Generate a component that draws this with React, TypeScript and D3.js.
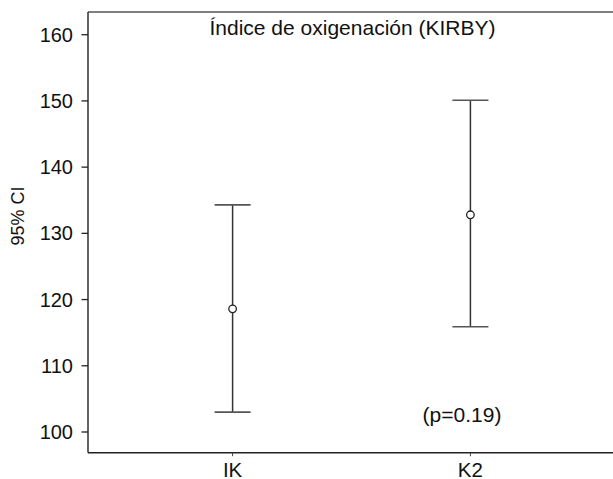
import React from "react";
import * as d3 from "d3";

const categories = ["IK", "K2"];
const means = [118.6, 132.8];
const lowers = [103.0, 115.9];
const uppers = [134.3, 150.1];
const yTicks = [100, 110, 120, 130, 140, 150, 160];
const title = "Índice de oxigenación (KIRBY)";
const yLabel = "95% CI";
const pText = "(p=0.19)";

export default function App() {
  const W = 613, H = 479;
  const left = 88, right = 615, top = 12, bottom = 452.7;
  const x = d3.scalePoint<string>().domain(categories).range([left, right]).padding(0.608);
  const y = d3.scaleLinear().domain([100, 160]).range([432, 34.7]);
  const font = "Liberation Sans, Arial, Helvetica, sans-serif";
  const stroke = "#333";
  const capHalf = 18;
  return (
    <svg width={W} height={H} style={{ position: "absolute", left: 0, top: 0, background: "#fff" }} fontFamily={font}>
      <rect x={0} y={0} width={W} height={H} fill="#fff" />
      {/* frame */}
      <line x1={left} x2={W} y1={top} y2={top} stroke="#555" strokeWidth={1.6} />
      <line x1={left} x2={W} y1={bottom} y2={bottom} stroke="#222" strokeWidth={1.6} />
      <line x1={left} x2={left} y1={top} y2={bottom} stroke="#222" strokeWidth={1.4} />
      {/* y ticks */}
      {yTicks.map((t) => (
        <g key={t}>
          <line x1={left - 6.5} x2={left} y1={y(t)} y2={y(t)} stroke="#222" strokeWidth={1.3} />
          <text x={73} y={y(t)} dy="0.35em" textAnchor="end" fontSize={20} fill="#111">{t}</text>
        </g>
      ))}
      {/* x ticks */}
      {categories.map((c) => (
        <g key={c}>
          <line x1={x(c)!} x2={x(c)!} y1={bottom} y2={bottom + 3.5} stroke="#444" strokeWidth={1} />
          <text x={x(c)!} y={476.5} textAnchor="middle" fontSize={20.5} fill="#111">{c}</text>
        </g>
      ))}
      {/* error bars */}
      {categories.map((c, i) => {
        const cx = x(c)!;
        return (
          <g key={"e" + c}>
            <line x1={cx} x2={cx} y1={y(uppers[i])} y2={y(lowers[i])} stroke={stroke} strokeWidth={1.5} />
            <line x1={cx - capHalf} x2={cx + capHalf} y1={y(uppers[i])} y2={y(uppers[i])} stroke="#555" strokeWidth={1.6} />
            <line x1={cx - capHalf} x2={cx + capHalf} y1={y(lowers[i])} y2={y(lowers[i])} stroke="#555" strokeWidth={1.6} />
            <circle cx={cx} cy={y(means[i])} r={3.8} fill="#fff" stroke="#222" strokeWidth={1.3} />
          </g>
        );
      })}
      <text x={352.5} y={35} textAnchor="middle" fontSize={21} fill="#111">{title}</text>
      <text x={462} y={421.5} textAnchor="middle" fontSize={21} fill="#111">{pText}</text>
      <text transform={`translate(24,216) rotate(-90)`} textAnchor="middle" fontSize={18} fill="#111">{yLabel}</text>
    </svg>
  );
}
